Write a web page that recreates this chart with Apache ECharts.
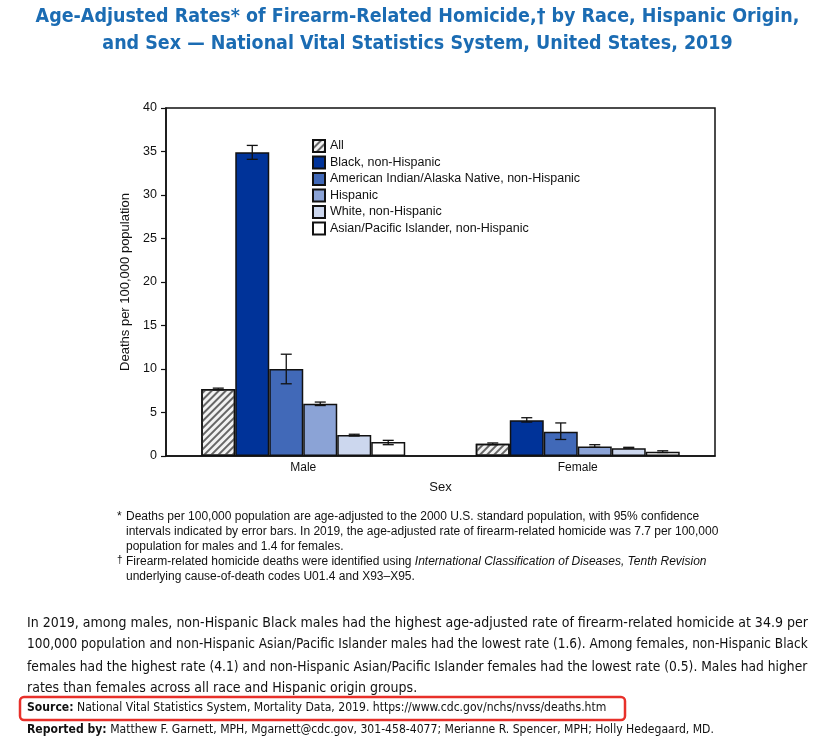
<!DOCTYPE html>
<html>
<head>
<meta charset="utf-8">
<script src="https://cdn.jsdelivr.net/npm/echarts@6/dist/echarts.min.js"></script>
<style>html,body{margin:0;padding:0;background:#fff;}#c{width:835px;height:745px;}</style>
</head>
<body>
<div id="c"></div>
<script>
const categories = ['Male', 'Female'];
const groups = ['All', 'Black, non-Hispanic', 'American Indian/Alaska Native, non-Hispanic', 'Hispanic', 'White, non-Hispanic', 'Asian/Pacific Islander, non-Hispanic'];
const maleRate = [7.7, 34.9, 10.0, 6.0, 2.4, 1.6];
const maleLow = [7.6, 34.1, 8.3, 5.8, 2.3, 1.3];
const maleHigh = [7.8, 35.7, 11.7, 6.2, 2.5, 1.8];
const femaleRate = [1.4, 4.1, 2.8, 1.1, 0.9, 0.5];
const femaleLow = [1.3, 3.9, 1.9, 1.0, 0.9, 0.4];
const femaleHigh = [1.5, 4.4, 3.8, 1.3, 1.0, 0.6];
const yTicks = [0, 5, 10, 15, 20, 25, 30, 35, 40];

const colors = ['#f2f2f2', '#003399', '#4169b8', '#8ba3d6', '#ccd7ee', '#ffffff'];
const gapPct = 25.7;

// ---- font helpers ----
const mctx = document.createElement('canvas').getContext('2d');
function hasFont(name) {
  const t = 'mmmmmmmmmmlliWWWabc123';
  let r = false;
  ['monospace', 'serif'].forEach(fb => {
    mctx.font = '40px ' + fb; const a = mctx.measureText(t).width;
    mctx.font = '40px "' + name + '", ' + fb; const b = mctx.measureText(t).width;
    if (Math.abs(a - b) > 0.5) r = true;
  });
  return r;
}
const condCands = ['Liberation Sans Narrow', 'DejaVu Sans Condensed', 'Roboto Condensed', 'Open Sans Condensed', 'Noto Sans Condensed', 'Arial Narrow', 'Roboto'];
let narrow = 'Roboto';
for (const f of condCands) { if (hasFont(f)) { narrow = f; break; } }
const base = 'Liberation Sans';
function fitSize(text, weight, family, target, ref) {
  mctx.font = weight + ' ' + ref + 'px "' + family + '"';
  return ref * target / mctx.measureText(text).width;
}

const titleL1 = 'Age-Adjusted Rates* of Firearm-Related Homicide,† by Race, Hispanic Origin,';
const titleL2 = 'and Sex — National Vital Statistics System, United States, 2019';
const titleSize = Math.min(24, fitSize(titleL1, 'bold', narrow, 764, 20));

const para = [
  'In 2019, among males, non-Hispanic Black males had the highest age-adjusted rate of firearm-related homicide at 34.9 per',
  '100,000 population and non-Hispanic Asian/Pacific Islander males had the lowest rate (1.6). Among females, non-Hispanic Black',
  'females had the highest rate (4.1) and non-Hispanic Asian/Pacific Islander females had the lowest rate (0.5). Males had higher',
  'rates than females across all race and Hispanic origin groups.'
];
const paraSize = Math.min(15, fitSize(para[0], 'normal', narrow, 781, 14));
const paraSizes = para.map((t, i) => i < 3 ? Math.min(paraSize, fitSize(t, 'normal', narrow, 781, 14)) : paraSize);
const srcText = 'Source: National Vital Statistics System, Mortality Data, 2019. https://www.cdc.gov/nchs/nvss/deaths.htm';
const srcSize = Math.max(10, Math.min(13, fitSize(srcText, 'normal', narrow, 574, 12)));

const chart = echarts.init(document.getElementById('c'), null, {renderer: 'canvas'});

const barSeries = groups.map((g, i) => ({
  name: g,
  type: 'bar',
  barGap: '0%',
  barCategoryGap: gapPct + '%',
  data: [maleRate[i], femaleRate[i]],
  itemStyle: Object.assign({
    color: colors[i], borderColor: '#111', borderWidth: 1.5
  }, i === 0 ? { decal: { symbol: 'rect', symbolSize: 1, dashArrayX: [1, 0], dashArrayY: [1.5, 3], rotation: -Math.PI / 4, color: '#666' } } : {}),
  emphasis: { disabled: true },
  z: 2
}));

const errData = [];
groups.forEach((g, i) => {
  errData.push([0, maleLow[i], maleHigh[i], i]);
  errData.push([1, femaleLow[i], femaleHigh[i], i]);
});

const errSeries = {
  type: 'custom',
  name: 'err',
  data: errData,
  encode: { x: 0, y: [1, 2] },
  z: 5,
  silent: true,
  renderItem: function (params, api) {
    const cat = api.value(0), lo = api.value(1), hi = api.value(2), si = api.value(3);
    const band = api.size([1, 0])[0];
    const area = band * (1 - gapPct / 100);
    const bw = area / groups.length;
    const off = -area / 2 + (si + 0.5) * bw;
    const pLo = api.coord([cat, lo]);
    const pHi = api.coord([cat, hi]);
    const x = pLo[0] + off;
    const cap = 5.5;
    const st = { stroke: '#111', lineWidth: 1.3, fill: null };
    return {
      type: 'group',
      children: [
        { type: 'line', shape: { x1: x, y1: pLo[1], x2: x, y2: pHi[1] }, style: st },
        { type: 'line', shape: { x1: x - cap, y1: pLo[1], x2: x + cap, y2: pLo[1] }, style: st },
        { type: 'line', shape: { x1: x - cap, y1: pHi[1], x2: x + cap, y2: pHi[1] }, style: st }
      ]
    };
  }
};

const fnFont = '12px "' + base + '"';
const srcFont = srcSize.toFixed(2) + 'px "' + narrow + '"';
const option = {
  backgroundColor: '#fff',
  animation: false,
  title: {
    text: titleL1 + '\n' + titleL2,
    left: 'center', top: -2,
    textStyle: { fontFamily: narrow, fontWeight: 'bold', fontSize: titleSize, color: '#1b6cb3', lineHeight: 27 }
  },
  grid: { left: 166, right: 120, top: 108, bottom: 289, show: true, borderColor: '#111', borderWidth: 1.5, backgroundColor: 'transparent' },
  legend: {
    data: groups, orient: 'vertical', left: 307, top: 134,
    itemWidth: 12, itemHeight: 12, itemGap: 2.5, icon: 'rect',
    textStyle: { fontFamily: base, fontSize: 12.5, color: '#111' },
    selectedMode: false
  },
  xAxis: {
    type: 'category', data: categories,
    name: 'Sex', nameLocation: 'middle', nameGap: 25,
    nameTextStyle: { fontFamily: base, fontSize: 13, color: '#111' },
    axisLine: { lineStyle: { color: '#111', width: 1.5 } },
    axisTick: { show: false },
    axisLabel: { fontFamily: base, fontSize: 12, color: '#111', margin: 6 }
  },
  yAxis: {
    type: 'value', min: 0, max: 40, interval: 5,
    name: 'Deaths per 100,000 population', nameLocation: 'middle', nameGap: 34, nameRotate: 90,
    nameTextStyle: { fontFamily: base, fontSize: 13, color: '#111' },
    axisLine: { show: true, lineStyle: { color: '#111', width: 1.5 } },
    axisTick: { show: true, length: 5, lineStyle: { color: '#111', width: 1.2 } },
    splitLine: { show: false },
    axisLabel: { fontFamily: base, fontSize: 12.5, color: '#111', margin: 9,
      formatter: v => yTicks.indexOf(v) >= 0 ? String(v) : '' }
  },
  aria: { enabled: true, decal: { show: false } },
  series: barSeries.concat([errSeries]),
  graphic: [
    { type: 'text', left: 117, top: 511, style: { text: '*', font: fnFont, fill: '#111' } },
    { type: 'text', left: 126, top: 511, style: { text: 'Deaths per 100,000 population are age-adjusted to the 2000 U.S. standard population, with 95% confidence', font: fnFont, fill: '#111' } },
    { type: 'text', left: 126, top: 526, style: { text: 'intervals indicated by error bars. In 2019, the age-adjusted rate of firearm-related homicide was 7.7 per 100,000', font: fnFont, fill: '#111' } },
    { type: 'text', left: 126, top: 541, style: { text: 'population for males and 1.4 for females.', font: fnFont, fill: '#111' } },
    { type: 'text', left: 117, top: 555, style: { text: '†', font: '10px "' + base + '"', fill: '#111' } },
    { type: 'text', left: 126, top: 556, style: { text: 'Firearm-related homicide deaths were identified using {i|International Classification of Diseases, Tenth Revision}', font: fnFont, fill: '#111', rich: { i: { fontStyle: 'italic', fontFamily: base, fontSize: 12, fill: '#111' } } } },
    { type: 'text', left: 126, top: 571, style: { text: 'underlying cause-of-death codes U01.4 and X93–X95.', font: fnFont, fill: '#111' } }
  ].concat(para.map((t, i) => ({
    type: 'text', left: 27, top: [616, 638, 660, 681][i],
    style: { text: t, font: paraSizes[i].toFixed(2) + 'px "' + narrow + '"', fill: '#111' }
  }))).concat([
    { type: 'rect', shape: { x: 20, y: 697, width: 605, height: 23, r: 4 }, style: { fill: null, stroke: '#e8302a', lineWidth: 2.5 } },
    { type: 'text', left: 27, top: 702, style: { text: '{b|Source:} National Vital Statistics System, Mortality Data, 2019. https://www.cdc.gov/nchs/nvss/deaths.htm', font: srcFont, fill: '#111', rich: { b: { fontWeight: 'bold', fontFamily: narrow, fontSize: srcSize, fill: '#111' } } } },
    { type: 'text', left: 27, top: 724, style: { text: '{b|Reported by:} Matthew F. Garnett, MPH, Mgarnett@cdc.gov, 301-458-4077; Merianne R. Spencer, MPH; Holly Hedegaard, MD.', font: srcFont, fill: '#111', rich: { b: { fontWeight: 'bold', fontFamily: narrow, fontSize: srcSize, fill: '#111' } } } }
  ])
};
chart.setOption(option);
</script>
</body>
</html>
